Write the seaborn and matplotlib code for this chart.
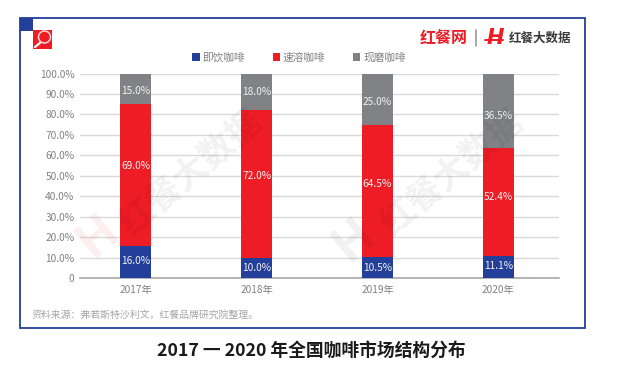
import matplotlib
matplotlib.use("Agg")
import matplotlib.pyplot as plt
from matplotlib.patches import Rectangle
from matplotlib.lines import Line2D
import seaborn as sns

years = ["2017年", "2018年", "2019年", "2020年"]
instant = [16.0, 10.0, 10.5, 11.1]
soluble = [69.0, 72.0, 64.5, 52.4]
fresh = [15.0, 18.0, 25.0, 36.5]
series_names = ["即饮咖啡", "速溶咖啡", "现磨咖啡"]
y_ticks = [0, 10, 20, 30, 40, 50, 60, 70, 80, 90, 100]
y_tick_labels = ["0", "10.0%", "20.0%", "30.0%", "40.0%", "50.0%", "60.0%", "70.0%", "80.0%", "90.0%", "100.0%"]
title_text = "2017 一 2020 年全国咖啡市场结构分布"
source_text = "资料来源：弗若斯特沙利文，红餐品牌研究院整理。"

BLUE, RED, GREY = "#233f99", "#ee1c25", "#808285"
W, H = 621, 374

sns.set_theme(style="white")
plt.rcParams["font.family"] = ["Noto Sans CJK SC", "DejaVu Sans"]
plt.rcParams["font.weight"] = "light"

fig = plt.figure(figsize=(W / 100, H / 100), dpi=100, facecolor="white")
ax = fig.add_axes([80 / W, 1 - 278.3 / H, 479 / W, 204.8 / H], facecolor="none")


def fx(px):
    return px / W


def fy(py):
    return 1 - py / H


# frame and corner decoration
fig.add_artist(Rectangle((fx(20), fy(328)), 565 / W, 310 / H, transform=fig.transFigure,
                         fill=False, ec=BLUE, lw=1.3, zorder=-1))
fig.add_artist(Rectangle((fx(20), fy(31)), 13 / W, 13 / H, transform=fig.transFigure, fc=BLUE, ec="none", zorder=-1))
fig.add_artist(Rectangle((fx(33), fy(49)), 19 / W, 19 / H, transform=fig.transFigure, fc=RED, ec="none", zorder=-1))
fig.add_artist(Line2D([fx(35), fx(40.5)], [fy(47), fy(42.5)], transform=fig.transFigure, color="white", lw=1.6, zorder=1))
fig.add_artist(plt.Circle((44.5, H - 37), 6, transform=None, fill=False, ec="#ffd5d5", lw=1.1, zorder=1))

# stacked bars
bottom = [0.0] * len(years)
for values, colour, name in zip([instant, soluble, fresh], [BLUE, RED, GREY], series_names):
    sns.barplot(x=years, y=values, bottom=bottom, color=colour, saturation=1, width=0.2566,
                label=name, ax=ax, zorder=3, linewidth=0)
    bottom = [b + v for b, v in zip(bottom, values)]

ax.set_xlim(-0.462, 3.503)
ax.set_ylim(0, 100)
ax.set_yticks(y_ticks)
ax.set_yticklabels(y_tick_labels)
ax.tick_params(axis="both", length=0, labelsize=7.3, labelcolor="#808080", pad=4)
ax.tick_params(axis="x", pad=5)
ax.grid(axis="y", color="#d9d9d9", lw=1, zorder=0)
ax.set_axisbelow(True)
for side in ["top", "left", "right"]:
    ax.spines[side].set_visible(False)
ax.spines["bottom"].set_color("#a0a0a0")
ax.spines["bottom"].set_linewidth(1.1)

# value labels (offsets are label nudges in points)
nudges = [[0.5, 0, 0, 0.5], [6.5, 5.5, 4.5, 3.5], [-1.5, 0, -2, -4]]
bottom = [0.0] * len(years)
for values, nudge in zip([instant, soluble, fresh], nudges):
    for i, v in enumerate(values):
        ax.annotate(f"{v:.1f}%", (i, bottom[i] + v / 2), xytext=(0, nudge[i]), textcoords="offset points",
                    ha="center", va="center", fontsize=7.3, color="#f2f2f2", zorder=5)
    bottom = [b + v for b, v in zip(bottom, values)]

# legend
ax.legend(loc="center", bbox_to_anchor=(fx(299), fy(57.5)), bbox_transform=fig.transFigure, ncol=3,
          frameon=False, fontsize=7.7, labelcolor="#808080", handlelength=0.67, handleheight=0.67,
          handletextpad=0.3, columnspacing=2.55, borderpad=0, borderaxespad=0)

# watermark
wm = dict(transform=fig.transFigure, ha="center", va="center", rotation=40, zorder=6, fontweight="bold",
          rotation_mode="anchor")
fig.text(fx(191), fy(172), "红餐大数据", fontsize=25, color="black", alpha=0.055, **wm)
fig.text(fx(452), fy(172), "红餐大数据", fontsize=25, color="black", alpha=0.055, **wm)
fig.text(fx(98), fy(236), "H", fontsize=36, color=RED, alpha=0.07, style="italic", **wm)
fig.text(fx(354), fy(240), "H", fontsize=36, color="black", alpha=0.06, style="italic", **wm)

# logo
fig.text(fx(444), fy(38), "红餐网", fontsize=11.5, color=RED, fontweight="bold", ha="center", va="center")
fig.add_artist(Line2D([fx(476), fx(476)], [fy(30), fy(46)], transform=fig.transFigure, color="#9a9a9a", lw=1.2))
fig.text(fx(495), fy(38), "H", fontsize=15, color=RED, fontweight="bold", style="italic",
         family="DejaVu Sans", ha="center", va="center")
fig.add_artist(Line2D([fx(485), fx(503)], [fy(39.5), fy(39.5)], transform=fig.transFigure, color=RED, lw=1.4))
fig.text(fx(540.5), fy(38.5), "红餐大数据", fontsize=9, color="#3a3a3a", fontweight="bold", ha="center", va="center")

# source and title
fig.text(fx(32), fy(314.5), source_text, fontsize=7.1, color="#a6a6a6", ha="left", va="center")
fig.text(fx(311.5), fy(351), title_text, fontsize=12.8, color="#1a1a1a", fontweight="bold", ha="center", va="center")

fig.savefig("out.png", dpi=100, facecolor="white")
